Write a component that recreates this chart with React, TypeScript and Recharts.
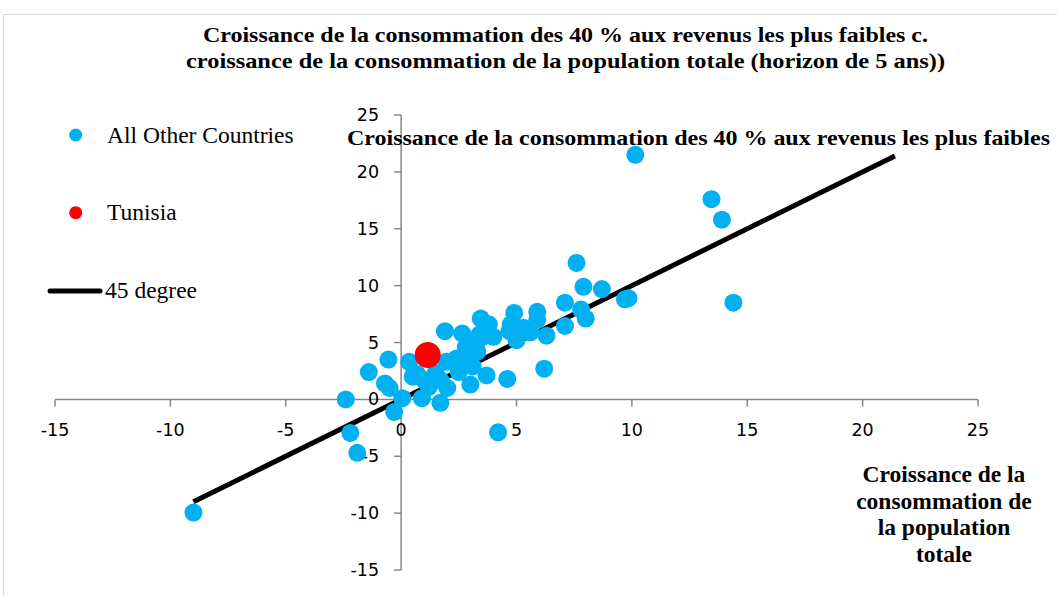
import React from "react"
import { ScatterChart, Scatter, XAxis, YAxis, ReferenceLine, ReferenceDot } from "recharts"

// growth of consumption, bottom 40% (y) vs total population (x)
const otherX = [
  -9.0, -2.4, -2.2, -1.9, -1.4, -0.7, -0.5, -0.55, -0.3, 0.05,
  0.35, 0.5, 0.7, 0.9, 1.0, 1.2, 1.5, 1.7, 1.9, 1.95,
  2.0, 1.7, 2.5, 2.4, 2.65, 2.8, 3.0, 3.1, 3.1, 3.3,
  3.45, 3.8, 3.45, 4.0, 3.7, 4.6, 4.2, 4.9, 4.75, 4.7,
  5.0, 5.3, 5.6, 5.9, 5.9, 6.3, 6.2, 7.1, 7.1, 7.6,
  7.8, 8.0, 7.9, 8.7, 9.7, 9.85, 10.15, 13.45, 13.9, 14.4,
  2.8, 2.95, 3.4,
]
const otherY = [
  -9.95, 0.0, -2.95, -4.7, 2.4, 1.4, 1.0, 3.5, -1.1, 0.1,
  3.3, 2.0, 2.2, 0.1, 1.7, 1.1, 2.3, -0.3, 6.0, 3.3,
  1.0, 1.7, 2.4, 3.6, 5.8, 3.8, 1.3, 2.9, 4.8, 4.2,
  7.1, 6.6, 5.4, 5.5, 2.1, 1.8, -2.9, 7.6, 6.6, 6.0,
  5.2, 6.3, 5.9, 7.7, 7.0, 5.6, 2.7, 8.5, 6.45, 12.0,
  7.9, 7.1, 9.9, 9.7, 8.8, 8.9, 21.5, 17.6, 15.8, 8.5,
  4.6, 3.5, 5.7,
]
const tunisia = [{ x: 1.15, y: 3.9 }]
const diagonal = [
  { x: -9, y: -9 },
  { x: 21.4, y: 21.4 },
]
const xTicks = [-15, -10, -5, 0, 5, 10, 15, 20, 25]
const yTicks = [-15, -10, -5, 0, 5, 10, 15, 20, 25]

const others = otherX.map((x, i) => ({ x, y: otherY[i] }))

const BLUE = "#00B0F0"
const RED = "#FF0000"
const AXIS = "#868686"
const tickFont = "'DejaVu Sans', sans-serif"
const serif = "'Liberation Serif', 'Times New Roman', serif"

const XTick = (props: any) => (
  <g>
    <line x1={props.cx} y1={props.cy} x2={props.cx} y2={props.cy + 7} stroke={AXIS} strokeWidth={1.5} />
    <text x={props.cx} y={props.cy + 37} textAnchor="middle" fontFamily={tickFont} fontSize={17.5} fill="#000">
      {props.label}
    </text>
  </g>
)

const YTick = (props: any) => (
  <g>
    <line x1={props.cx} y1={props.cy} x2={props.cx - 7} y2={props.cy} stroke={AXIS} strokeWidth={1.5} />
    <text x={props.cx - 22} y={props.cy + 6} textAnchor="end" fontFamily={tickFont} fontSize={17.5} fill="#000">
      {props.label}
    </text>
  </g>
)

export default function App() {
  return (
    <div style={{ position: "absolute", left: 0, top: 0, width: 1057, height: 596, overflow: "hidden", background: "#fff" }}>
      <div style={{ position: "absolute", left: 3, top: 14, width: 1200, height: 800, border: "1px solid #d9d9d9" }} />
      <ScatterChart width={1057} height={596} margin={{ top: 115, right: 79, bottom: 26, left: 55 }} style={{ position: "absolute", left: 0, top: 0 }}>
        <XAxis type="number" dataKey="x" domain={[-15, 25]} allowDataOverflow hide />
        <YAxis type="number" dataKey="y" domain={[-15, 25]} allowDataOverflow hide />
        <ReferenceLine y={0} stroke={AXIS} strokeWidth={1.5} />
        <ReferenceLine x={0} stroke={AXIS} strokeWidth={1.5} />
        {xTicks.map((t) => (
          <ReferenceDot key={"xt" + t} x={t} y={0} r={0} shape={(p: any) => <XTick {...p} label={t} />} />
        ))}
        {yTicks.map((t) => (
          <ReferenceDot key={"yt" + t} x={0} y={t} r={0} shape={(p: any) => <YTick {...p} label={t} />} />
        ))}
        <Scatter
          data={diagonal}
          line={{ stroke: "#000", strokeWidth: 5 }}
          shape={() => <g />}
          isAnimationActive={false}
        />
        <Scatter
          data={others}
          shape={(p: any) => <circle cx={p.cx} cy={p.cy} r={9} fill={BLUE} />}
          isAnimationActive={false}
        />
        <Scatter
          data={tunisia}
          shape={(p: any) => <circle cx={p.cx} cy={p.cy} r={13} fill={RED} />}
          isAnimationActive={false}
        />
      </ScatterChart>
      <svg width={1057} height={596} style={{ position: "absolute", left: 0, top: 0, pointerEvents: "none" }}>
        <g fontFamily={serif} fontWeight="bold" fontSize={22} lengthAdjust="spacingAndGlyphs">
          <text x={203} y={42} textLength={725} lengthAdjust="spacingAndGlyphs">
            Croissance de la consommation des 40 % aux revenus les plus faibles c.
          </text>
          <text x={186} y={68} textLength={759} lengthAdjust="spacingAndGlyphs">
            croissance de la consommation de la population totale (horizon de 5 ans))
          </text>
        </g>
        <text x={347} y={145} fontFamily={serif} fontWeight="bold" fontSize={22} textLength={703} lengthAdjust="spacingAndGlyphs">
          Croissance de la consommation des 40 % aux revenus les plus faibles
        </text>
        <g fontFamily={serif} fontWeight="bold" fontSize={23.5} textAnchor="middle">
          <text x={944} y={482}>Croissance de la</text>
          <text x={944} y={508.5}>consommation de</text>
          <text x={944} y={535}>la population</text>
          <text x={944} y={561.5}>totale</text>
        </g>
        <g fontFamily={serif} fontSize={23.5}>
          <circle cx={75.7} cy={135} r={6.5} fill={BLUE} />
          <text x={107} y={143}>All Other Countries</text>
          <circle cx={75.7} cy={212.7} r={6.5} fill={RED} />
          <text x={107} y={220}>Tunisia</text>
          <line x1={50} y1={291} x2={100} y2={291} stroke="#000" strokeWidth={5} strokeLinecap="round" />
          <text x={105} y={298}>45 degree</text>
        </g>
      </svg>
    </div>
  )
}
